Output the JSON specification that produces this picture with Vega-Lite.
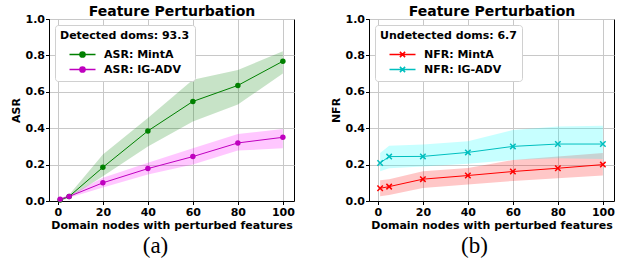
{
  "$schema": "https://vega.github.io/schema/vega-lite/v6.json",
  "padding": {"left": 9, "top": 3, "right": 0, "bottom": 0},
  "background": "white",
  "config": {
    "font": "DejaVu Sans",
    "view": {"stroke": "black", "strokeWidth": 1},
    "axis": {
      "domainColor": "black", "domainWidth": 1,
      "tickColor": "black", "tickSize": 3.5, "tickWidth": 1,
      "labelFont": "DejaVu Sans", "labelFontWeight": "bold", "labelFontSize": 11, "labelColor": "black",
      "titleFont": "DejaVu Sans", "titleFontWeight": "bold", "titleFontSize": 11, "titleColor": "black",
      "gridColor": "#c8c8c8", "gridWidth": 1, "labelOverlap": false
    },
    "legend": {
      "orient": "top-left", "offset": 6, "padding": 5,
      "fillColor": "white", "strokeColor": "#d0d0d0", "cornerRadius": 3,
      "titleFont": "DejaVu Sans", "titleFontWeight": "bold", "titleFontSize": 11, "titleColor": "black",
      "labelFont": "DejaVu Sans", "labelFontWeight": "bold", "labelFontSize": 11, "labelColor": "black",
      "rowPadding": 1, "titlePadding": 6, "titleLimit": 300, "labelLimit": 300
    },
    "title": {"font": "Liberation Serif", "fontSize": 23, "fontWeight": "normal", "color": "black"}
  },
  "datasets": {
    "asr": [
      {"x": 1, "series": "ASR: MintA", "y": 0.005, "lo": 0.0, "hi": 0.012},
      {"x": 5, "series": "ASR: MintA", "y": 0.025, "lo": 0.017, "hi": 0.035},
      {"x": 20, "series": "ASR: MintA", "y": 0.185, "lo": 0.136, "hi": 0.255},
      {"x": 40, "series": "ASR: MintA", "y": 0.385, "lo": 0.30, "hi": 0.456},
      {"x": 60, "series": "ASR: MintA", "y": 0.547, "lo": 0.437, "hi": 0.666},
      {"x": 80, "series": "ASR: MintA", "y": 0.635, "lo": 0.53, "hi": 0.72},
      {"x": 100, "series": "ASR: MintA", "y": 0.768, "lo": 0.70, "hi": 0.823},
      {"x": 1, "series": "ASR: IG-ADV", "y": 0.01, "lo": 0.005, "hi": 0.015},
      {"x": 5, "series": "ASR: IG-ADV", "y": 0.025, "lo": 0.018, "hi": 0.032},
      {"x": 20, "series": "ASR: IG-ADV", "y": 0.10, "lo": 0.074, "hi": 0.128},
      {"x": 40, "series": "ASR: IG-ADV", "y": 0.178, "lo": 0.145, "hi": 0.21},
      {"x": 60, "series": "ASR: IG-ADV", "y": 0.244, "lo": 0.20, "hi": 0.29},
      {"x": 80, "series": "ASR: IG-ADV", "y": 0.319, "lo": 0.277, "hi": 0.368},
      {"x": 100, "series": "ASR: IG-ADV", "y": 0.35, "lo": 0.29, "hi": 0.395}
    ],
    "nfr": [
      {"x": 1, "series": "NFR: MintA", "y": 0.07, "lo": 0.026, "hi": 0.114},
      {"x": 5, "series": "NFR: MintA", "y": 0.079, "lo": 0.033, "hi": 0.12},
      {"x": 20, "series": "NFR: MintA", "y": 0.12, "lo": 0.072, "hi": 0.163},
      {"x": 40, "series": "NFR: MintA", "y": 0.14, "lo": 0.09, "hi": 0.182},
      {"x": 60, "series": "NFR: MintA", "y": 0.162, "lo": 0.11, "hi": 0.225},
      {"x": 80, "series": "NFR: MintA", "y": 0.18, "lo": 0.125, "hi": 0.245},
      {"x": 100, "series": "NFR: MintA", "y": 0.20, "lo": 0.14, "hi": 0.264},
      {"x": 1, "series": "NFR: IG-ADV", "y": 0.209, "lo": 0.163, "hi": 0.264},
      {"x": 5, "series": "NFR: IG-ADV", "y": 0.244, "lo": 0.18, "hi": 0.304},
      {"x": 20, "series": "NFR: IG-ADV", "y": 0.245, "lo": 0.19, "hi": 0.31},
      {"x": 40, "series": "NFR: IG-ADV", "y": 0.267, "lo": 0.204, "hi": 0.328},
      {"x": 60, "series": "NFR: IG-ADV", "y": 0.30, "lo": 0.225, "hi": 0.39},
      {"x": 80, "series": "NFR: IG-ADV", "y": 0.313, "lo": 0.235, "hi": 0.41},
      {"x": 100, "series": "NFR: IG-ADV", "y": 0.313, "lo": 0.231, "hi": 0.414}
    ]
  },
  "hconcat": [
    {
      "width": 245, "height": 182,
      "data": {"name": "asr"},
      "title": {"text": "(a)", "orient": "bottom", "anchor": "middle", "frame": "group", "offset": 4, "dx": -16},
      "resolve": {"axis": {"x": "independent"}},
      "layer": [
        {
          "mark": {"type": "area", "opacity": 0.22},
          "encoding": {
            "x": {"field": "x", "type": "quantitative", "scale": {"domain": [-3.95, 104.95], "nice": false},
                  "axis": {"values": [0, 20, 40, 60, 80, 100], "title": "Domain nodes with perturbed features", "labelPadding": 2, "titlePadding": 2}},
            "y": {"field": "lo", "type": "quantitative", "scale": {"domain": [0, 1], "nice": false},
                  "axis": {"values": [0, 0.2, 0.4, 0.6, 0.8, 1.0], "format": ".1f", "title": "ASR", "labelPadding": 1, "titlePadding": 4}},
            "y2": {"field": "hi"},
            "fill": {"field": "series", "type": "nominal", "scale": {"domain": ["ASR: MintA", "ASR: IG-ADV", "NFR: MintA", "NFR: IG-ADV"], "range": ["#008000", "#ff00ff", "#ff0000", "#00ffff"]}, "legend": null}
          }
        },
        {
          "mark": {"type": "line", "strokeWidth": 1},
          "encoding": {
            "x": {"field": "x", "type": "quantitative", "axis": {"orient": "top", "labels": false, "ticks": false, "domain": false, "grid": false, "title": "Feature Perturbation", "titleFontSize": 14, "titlePadding": 1}},
            "y": {"field": "y", "type": "quantitative",
                  "axis": {"values": [0, 0.2, 0.4, 0.6, 0.8, 1.0], "format": ".1f", "title": "ASR", "labelPadding": 1, "titlePadding": 4}},
            "color": {"field": "series", "type": "nominal", "scale": {"domain": ["ASR: MintA", "ASR: IG-ADV"], "range": ["#008000", "#bf00bf"]},
                      "legend": {"title": "Detected doms: 93.3",
                                 "symbolType": "M-2,0H2M-0.4,0A0.4,0.4,0,1,1,0.4,0A0.4,0.4,0,1,1,-0.4,0Z",
                                 "symbolSize": 169, "symbolOffset": 15, "labelOffset": 14, "symbolStrokeWidth": 1.5,
                                 "encode": {"symbols": {"update": {
                                   "stroke": [{"test": "datum.value === 'ASR: MintA'", "value": "#008000"}, {"value": "#bf00bf"}],
                                   "fill": [{"test": "datum.value === 'ASR: MintA'", "value": "#008000"}, {"value": "#bf00bf"}],
                                   "opacity": {"value": 1}}}}}}
          }
        },
        {
          "mark": {"type": "point", "filled": true, "size": 30, "opacity": 1},
          "encoding": {
            "x": {"field": "x", "type": "quantitative", "axis": null},
            "y": {"field": "y", "type": "quantitative",
                  "axis": {"values": [0, 0.2, 0.4, 0.6, 0.8, 1.0], "format": ".1f", "title": "ASR", "labelPadding": 1, "titlePadding": 4}},
            "color": {"field": "series", "type": "nominal"}
          }
        }
      ]
    },
    {
      "width": 245, "height": 182,
      "data": {"name": "nfr"},
      "title": {"text": "(b)", "orient": "bottom", "anchor": "middle", "frame": "group", "offset": 4, "dx": -17},
      "resolve": {"axis": {"x": "independent"}},
      "layer": [
        {
          "mark": {"type": "area", "opacity": 0.22},
          "encoding": {
            "x": {"field": "x", "type": "quantitative", "scale": {"domain": [-3.95, 104.95], "nice": false},
                  "axis": {"values": [0, 20, 40, 60, 80, 100], "title": "Domain nodes with perturbed features", "labelPadding": 2, "titlePadding": 2}},
            "y": {"field": "lo", "type": "quantitative", "scale": {"domain": [0, 1], "nice": false},
                  "axis": {"values": [0, 0.2, 0.4, 0.6, 0.8, 1.0], "format": ".1f", "title": "NFR", "labelPadding": 1, "titlePadding": 4}},
            "y2": {"field": "hi"},
            "fill": {"field": "series", "type": "nominal", "scale": {"domain": ["ASR: MintA", "ASR: IG-ADV", "NFR: MintA", "NFR: IG-ADV"], "range": ["#008000", "#ff00ff", "#ff0000", "#00ffff"]}, "legend": null}
          }
        },
        {
          "mark": {"type": "line", "strokeWidth": 1},
          "encoding": {
            "x": {"field": "x", "type": "quantitative", "axis": {"orient": "top", "labels": false, "ticks": false, "domain": false, "grid": false, "title": "Feature Perturbation", "titleFontSize": 14, "titlePadding": 1}},
            "y": {"field": "y", "type": "quantitative",
                  "axis": {"values": [0, 0.2, 0.4, 0.6, 0.8, 1.0], "format": ".1f", "title": "NFR", "labelPadding": 1, "titlePadding": 4}},
            "color": {"field": "series", "type": "nominal", "scale": {"domain": ["NFR: MintA", "NFR: IG-ADV"], "range": ["#ff0000", "#00bfbf"]},
                      "legend": {"title": "Undetected doms: 6.7",
                                 "symbolType": "M-2,0H2M-0.4,-0.4L0.4,0.4M-0.4,0.4L0.4,-0.4",
                                 "symbolSize": 169, "symbolOffset": 15, "labelOffset": 14, "symbolStrokeWidth": 1.5,
                                 "encode": {"symbols": {"update": {
                                   "stroke": [{"test": "datum.value === 'NFR: MintA'", "value": "#ff0000"}, {"value": "#00bfbf"}],
                                   "fill": {"value": "transparent"},
                                   "opacity": {"value": 1}}}}}}
          }
        },
        {
          "mark": {"type": "point", "shape": "M-1,-1L1,1M-1,1L1,-1", "filled": false, "size": 30, "strokeWidth": 1.5, "opacity": 1},
          "encoding": {
            "x": {"field": "x", "type": "quantitative", "axis": null},
            "y": {"field": "y", "type": "quantitative",
                  "axis": {"values": [0, 0.2, 0.4, 0.6, 0.8, 1.0], "format": ".1f", "title": "NFR", "labelPadding": 1, "titlePadding": 4}},
            "color": {"field": "series", "type": "nominal"}
          }
        }
      ]
    }
  ],
  "spacing": 75,
  "bounds": "flush",
  "resolve": {"scale": {"color": "independent", "x": "independent", "y": "independent"}, "legend": {"color": "independent"}}
}
